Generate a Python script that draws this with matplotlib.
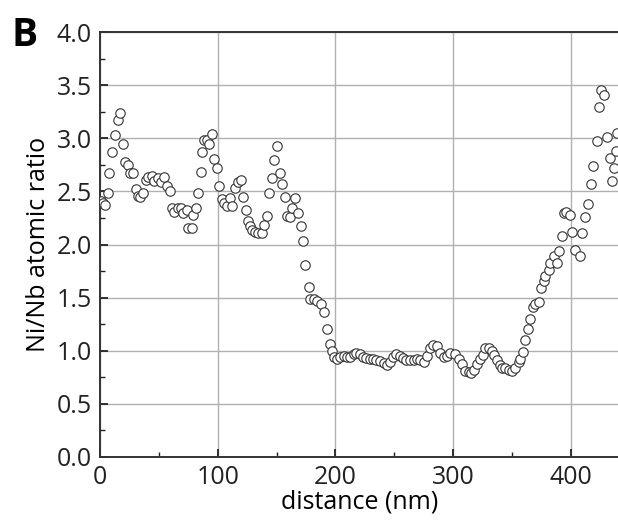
import matplotlib
matplotlib.use('Agg')
import matplotlib.pyplot as plt
from matplotlib.ticker import MultipleLocator

plt.rcParams['font.family'] = ['Open Sans', 'DejaVu Sans']

# Perfil Ni/Nb ao longo da distancia
distancia = [
    0.5, 2.5, 4.5, 6.5, 7.8, 9.9, 12.8, 15.0, 17.0, 19.8, 21.5, 24.0, 25.8, 28.3,
    30.3, 32.0, 34.0, 36.8, 38.8, 41.0, 44.0, 46.2, 49.0, 51.9, 54.7, 56.7, 59.5,
    61.0, 63.2, 66.0, 68.9, 70.9, 73.7, 75.0, 78.0, 79.4, 81.6, 83.0, 85.9, 87.0,
    88.7, 90.7, 92.7, 95.0, 97.2, 99.2, 101.2, 103.5, 105.7, 107.7, 110.5, 112.5,
    114.8, 117.0, 119.6, 121.9, 123.9, 125.6, 127.6, 129.5, 131.8, 134.6, 137.5,
    139.5, 141.7, 143.7, 146.0, 148.2, 150.5, 152.8, 155.0, 157.3, 159.2, 161.6,
    163.5, 165.8, 167.8, 170.5, 172.5, 174.5, 177.2, 178.6, 181.4, 184.2, 187.5,
    190.0, 192.8, 195.0, 197.0, 198.4,
    201.3, 204.1, 206.9, 209.8, 212.6, 215.4, 217.7, 220.5, 223.4, 226.2, 229.0,
    231.9, 234.7, 238.1, 240.9, 243.8, 246.0, 248.9, 251.7, 254.5, 257.4, 260.2,
    263.0, 266.4, 269.3, 272.1, 274.9, 277.5, 280.3, 283.0, 286.0, 289.0, 291.9,
    294.8, 297.6, 301.9, 304.7, 307.5, 310.4, 313.2, 315.2, 317.5, 320.3, 323.1,
    325.4, 327.4, 330.2, 333.1, 334.5, 337.3, 339.6, 341.6, 344.4, 347.3, 350.1,
    352.9, 355.7, 357.1, 359.4, 361.4, 363.4, 365.6, 367.6, 369.9, 372.7, 374.7,
    377.0, 378.4, 381.2, 382.7, 386.0, 388.3, 389.7, 392.6, 394.6, 396.3, 399.1,
    401.0, 403.9, 407.6, 409.6, 412.4, 414.4, 416.7, 419.0, 421.8, 423.7, 425.2,
    428.0, 430.3, 433.1, 435.0, 436.5, 438.0, 439.4,
]
razao = [
    2.41, 2.39, 2.37, 2.49, 2.67, 2.87, 3.03, 3.17, 3.24, 2.95, 2.78, 2.75, 2.67, 2.67,
    2.52, 2.46, 2.45, 2.49, 2.61, 2.64, 2.65, 2.60, 2.63, 2.59, 2.64, 2.55, 2.50,
    2.34, 2.31, 2.34, 2.34, 2.30, 2.33, 2.16, 2.16, 2.28, 2.34, 2.49, 2.68, 2.87,
    2.99, 2.99, 2.95, 3.04, 2.81, 2.72, 2.55, 2.43, 2.39, 2.36, 2.44, 2.36,
    2.53, 2.59, 2.61, 2.45, 2.33, 2.22, 2.17, 2.14, 2.12, 2.11, 2.11,
    2.18, 2.27, 2.49, 2.63, 2.80, 2.93, 2.67, 2.57, 2.45, 2.27, 2.26,
    2.34, 2.44, 2.30, 2.17, 2.03, 1.81, 1.60, 1.49, 1.49, 1.47, 1.44,
    1.36, 1.20, 1.06, 1.00, 0.94,
    0.92, 0.94, 0.95, 0.94, 0.94, 0.97, 0.98, 0.97, 0.94, 0.93, 0.92,
    0.92, 0.91, 0.90, 0.88, 0.86, 0.89, 0.94, 0.97, 0.95, 0.93, 0.91,
    0.91, 0.91, 0.92, 0.91, 0.89, 0.95, 1.02, 1.05, 1.04, 0.98, 0.94,
    0.95, 0.98, 0.97, 0.92, 0.875, 0.81, 0.80, 0.79, 0.82, 0.875, 0.92,
    0.96, 1.02, 1.025, 1.00, 0.96, 0.91, 0.86, 0.84, 0.84, 0.82, 0.81,
    0.84, 0.89, 0.92, 0.99, 1.10, 1.20, 1.30, 1.41, 1.44, 1.46, 1.59,
    1.66, 1.70, 1.76, 1.83, 1.89, 1.83, 1.94, 2.08, 2.30, 2.31, 2.28,
    2.12, 1.95, 1.89, 2.11, 2.26, 2.38, 2.57, 2.74, 2.98, 3.30, 3.46,
    3.41, 3.01, 2.82, 2.60, 2.72, 2.88, 3.05,
]

fig = plt.figure(figsize=(6.18, 5.23), dpi=100)
ax = fig.add_axes([0.1618, 0.127, 0.84, 0.811])

ax.plot(distancia, razao, linestyle='none', marker='o', markersize=6.8,
        markerfacecolor='white', markeredgecolor='#333333', markeredgewidth=0.8,
        zorder=3)

ax.set_xlim(0, 441)
ax.set_ylim(0, 4.0)
ax.xaxis.set_major_locator(MultipleLocator(100))
ax.xaxis.set_minor_locator(MultipleLocator(50))
ax.yaxis.set_major_locator(MultipleLocator(0.5))
ax.yaxis.set_minor_locator(MultipleLocator(0.25))
ax.yaxis.set_major_formatter(plt.FormatStrFormatter('%.1f'))

ax.grid(True, which='major', color='#b0b0b0', linewidth=1.0, zorder=0)
ax.tick_params(which='both', direction='in', labelsize=18, colors='#222222')
ax.tick_params(which='major', length=6, width=1.3, pad=6)
ax.tick_params(which='minor', length=3.5, width=1.0)
for lado in ['left', 'bottom', 'top']:
    ax.spines[lado].set_linewidth(1.4)
    ax.spines[lado].set_color('#333333')
ax.spines['right'].set_visible(False)

ax.set_xlabel('distance (nm)', fontsize=18, labelpad=0)
ax.set_ylabel('Ni/Nb atomic ratio', fontsize=18, labelpad=4)

fig.text(0.018, 0.913, 'B', fontsize=28, fontweight='bold', va='baseline')

fig.savefig('out.png', dpi=100)
